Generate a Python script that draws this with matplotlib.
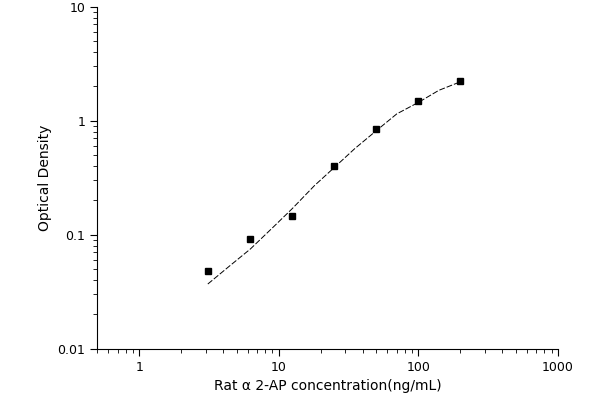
import matplotlib
matplotlib.use("Agg")
import matplotlib.pyplot as plt

conc = [3.125, 6.25, 12.5, 25, 50, 100, 200]
od = [0.048, 0.092, 0.145, 0.40, 0.84, 1.48, 2.25]
curve_x = [3.1, 4.5, 6.25, 9, 12.5, 18, 25, 35, 50, 70, 100, 140, 200]
curve_y = [0.037, 0.054, 0.075, 0.115, 0.17, 0.27, 0.39, 0.57, 0.82, 1.15, 1.45, 1.85, 2.2]

fig = plt.figure(figsize=(6, 4), dpi=100)
ax = fig.add_axes([0.162, 0.128, 0.768, 0.855])
ax.plot(curve_x, curve_y, color="black", lw=0.7, ls=(0, (6, 2)))
ax.plot(conc, od, "s", color="black", ms=4.5)
ax.set_xscale("log"); ax.set_yscale("log")
ax.set_xlim(0.5, 1000); ax.set_ylim(0.01, 10)
ax.set_xticks([1, 10, 100, 1000]); ax.set_xticklabels(["1", "10", "100", "1000"])
ax.set_yticks([0.01, 0.1, 1, 10]); ax.set_yticklabels(["0.01", "0.1", "1", "10"])
for s in ["top", "right"]:
    ax.spines[s].set_visible(False)
ax.tick_params(which="major", direction="out", length=5, labelsize=9)
ax.tick_params(which="minor", direction="out", length=3)
ax.set_xlabel("Rat α 2-AP concentration(ng/mL)", fontsize=10)
ax.set_ylabel("Optical Density", fontsize=10)
fig.savefig("out.png", dpi=100)
